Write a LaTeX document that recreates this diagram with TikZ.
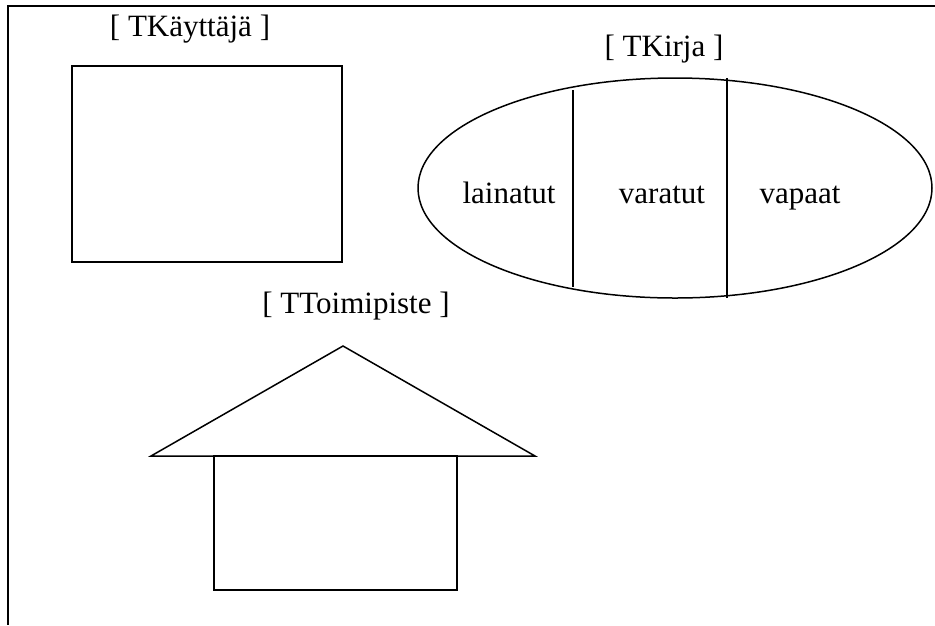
\documentclass[tikz,border=0pt]{standalone}
\usepackage{fontspec}
\setmainfont{Liberation Serif}
\usetikzlibrary{shapes.geometric}

\begin{document}
\begin{tikzpicture}[
        %Environment config
        x=1pt, y=-1pt,
        font=\fontsize{31}{37}\selectfont,
        line width=1.5pt,
        %Environment styles
        BoxCfg/.style={
            draw,
            rectangle,
            inner sep=0pt
        },
        LabelCfg/.style={
            anchor=base,
            inner sep=0pt
        }
    ]
    \useasboundingbox (0,0) rectangle (935,625);

    %frame (top and left only)
    \draw[line width=2.2pt] (935,6) coordinate (FR1) -- (8,6) coordinate (FR2) -- (8,625);

    \path
        (207,164) node[BoxCfg, minimum width=270pt, minimum height=196pt](KAY){}
        (190,36) node[LabelCfg](KAYlbl){[ TKäyttäjä ]}
        (675,188) node[ellipse, draw, inner sep=0pt,
            minimum width=514pt, minimum height=220pt](KIRJA){}
        (664,56) node[LabelCfg](KIRJAlbl){[ TKirja ]}
        (509,203) node[LabelCfg](LAIN){lainatut}
        (662,203) node[LabelCfg](VAR){varatut}
        (800,203) node[LabelCfg](VAP){vapaat}
        (335.5,523) node[BoxCfg, minimum width=243pt, minimum height=134pt](TOIMI){}
        (356,313) node[LabelCfg](TOIMIlbl){[ TToimipiste ]};

    %dividers of the ellipse
    \path
        (573,90) coordinate (D1top)
        (573,287) coordinate (D1bot)
        (727,78) coordinate (D2top)
        (727,298) coordinate (D2bot);
    \draw (D1top) -- (D1bot)
        (D2top) -- (D2bot);

    %roof
    \path
        (151,456) coordinate (ROOFl)
        (343,346) coordinate (ROOFtop)
        (535,456) coordinate (ROOFr);
    \draw (ROOFl) -- (ROOFtop) -- (ROOFr) -- cycle;

\end{tikzpicture}
\end{document}
